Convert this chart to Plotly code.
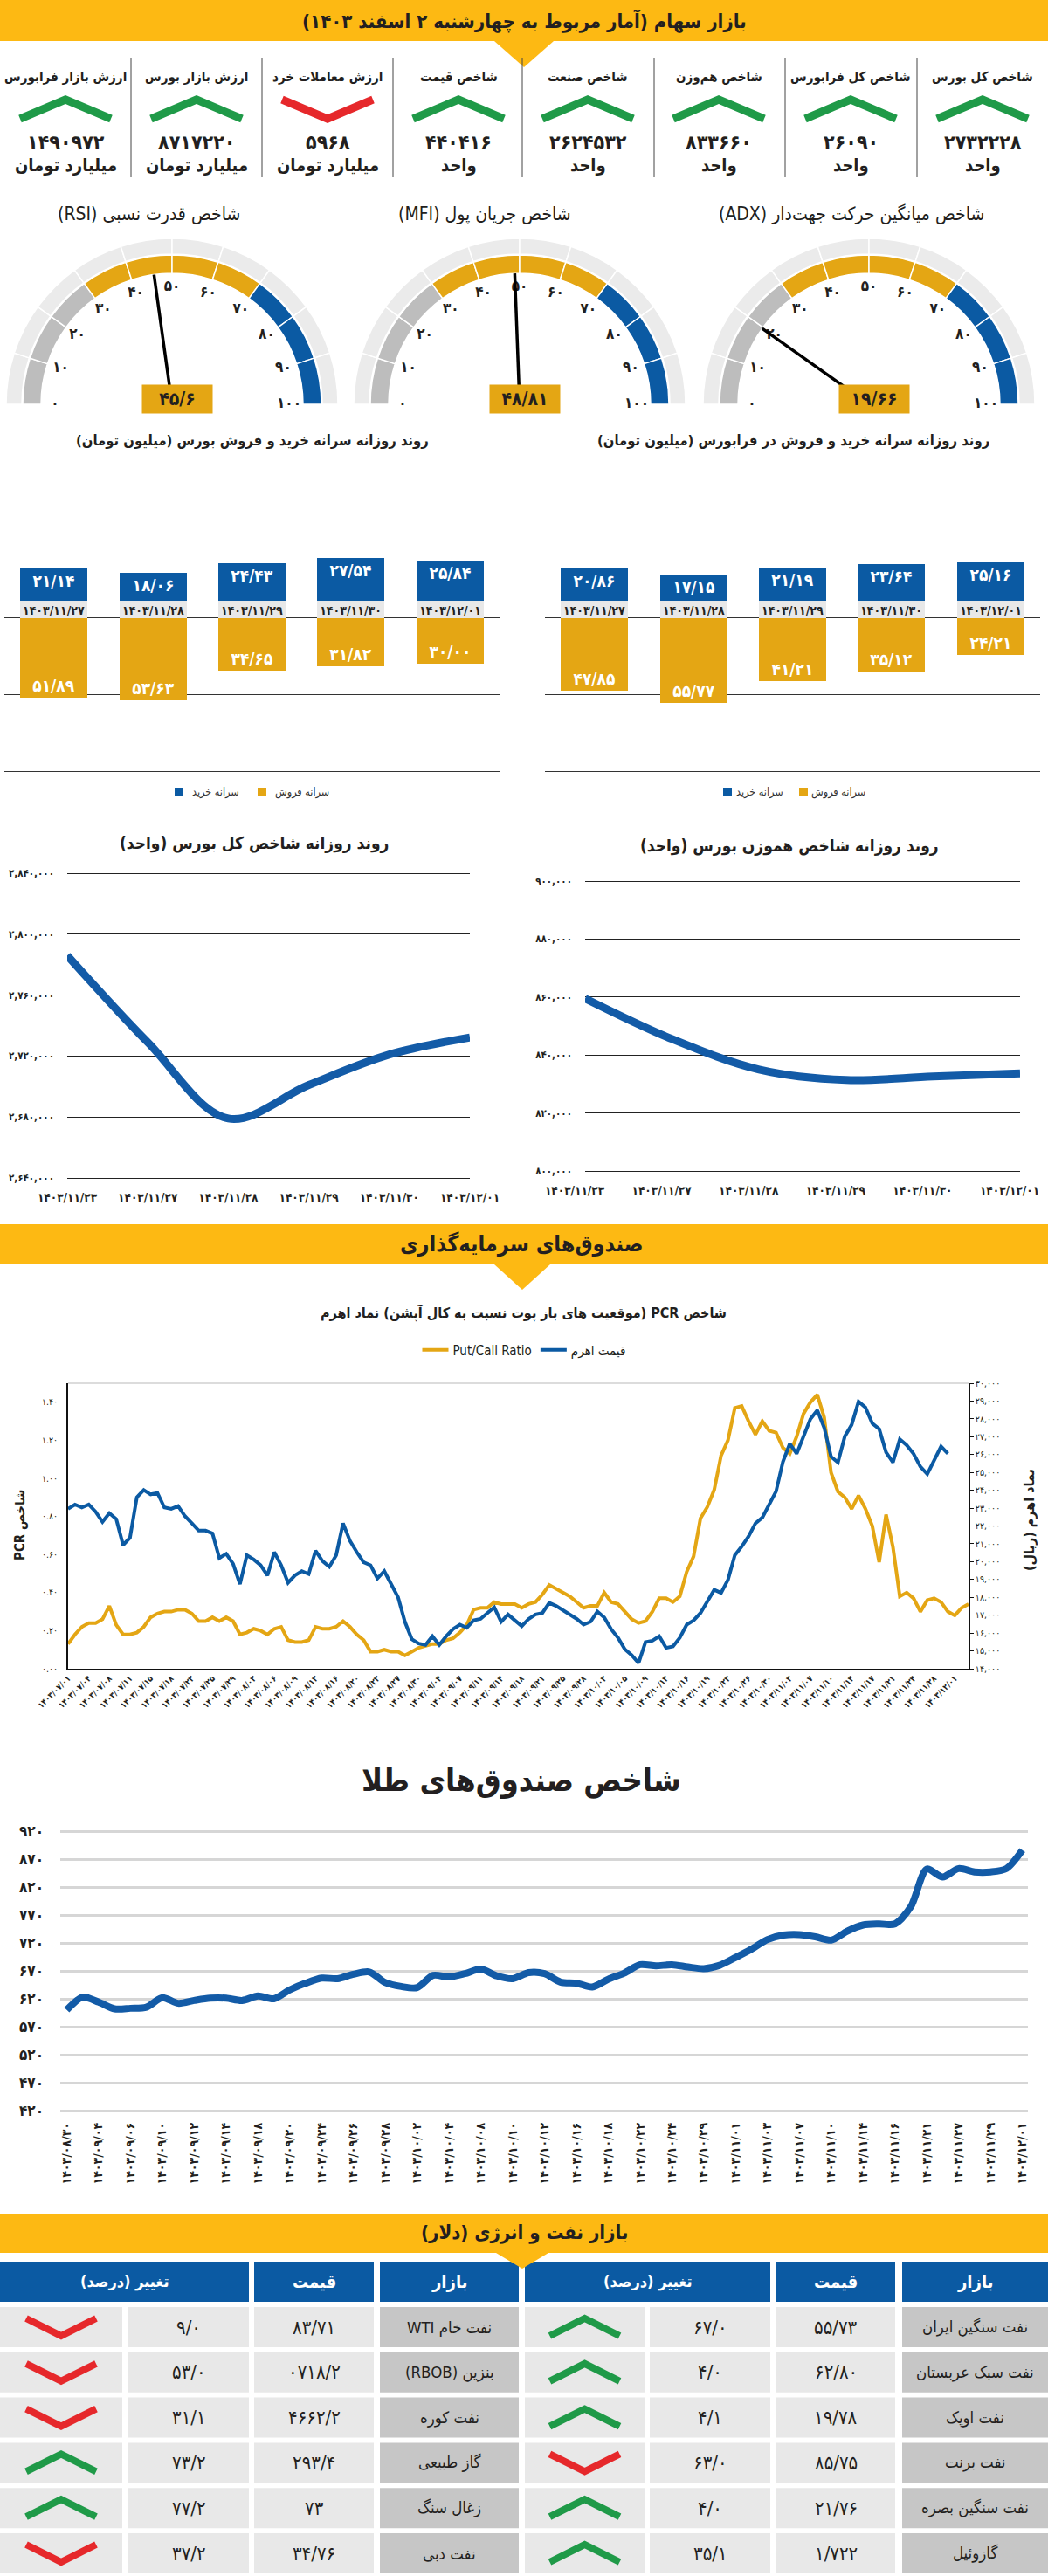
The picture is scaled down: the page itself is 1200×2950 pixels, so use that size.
import plotly.graph_objects as go

W, H = 1200, 2950
FONT = "DejaVu Sans Condensed, DejaVu Sans"
DARK = "#231f20"
YELLOW = "#fdb913"
GOLD = "#e4a614"
BLUE = "#0b5aa3"
LINE_BLUE = "#135ba7"
GREEN = "#1f9a48"
RED = "#e6282b"

FA = str.maketrans("0123456789", "۰۱۲۳۴۵۶۷۸۹")


def fa(s):
    return str(s).translate(FA)


def rtl(s):
    return "\u202b" + s + "\u202c"


def px(x):
    return x / W


def py(y):
    return 1 - y / H


def padded(top_px, bottom_px, lo, hi, pad=2):
    # widen a y axis by a couple of pixels so the end gridlines are drawn
    per = (hi - lo) / (bottom_px - top_px)
    return [py(bottom_px + pad), py(top_px - pad)], [lo - pad * per, hi + pad * per]


# ---------------- data ----------------
report_title = "بازار سهام (آمار مربوط به چهارشنبه ۲ اسفند ۱۴۰۳)"
kpi_titles = ["ارزش بازار فرابورس", "ارزش بازار بورس", "ارزش معاملات خرد", "شاخص قیمت",
              "شاخص صنعت", "شاخص هم\u200cوزن", "شاخص کل فرابورس", "شاخص کل بورس"]
kpi_values = [1490972, 8717220, 5968, 440416, 2624532, 833660, 26090, 2732228]
kpi_units = ["میلیارد تومان"] * 3 + ["واحد"] * 5
kpi_up = [True, True, False, True, True, True, True, True]

gauge_titles = ["شاخص قدرت نسبی (RSI)", "شاخص جریان پول (MFI)", "شاخص میانگین حرکت جهت\u200cدار (ADX)"]
gauge_values = [45.6, 48.81, 19.66]
gauge_ticks = [0, 10, 20, 30, 40, 50, 60, 70, 80, 90, 100]

bar_days = ["1403/11/27", "1403/11/28", "1403/11/29", "1403/11/30", "1403/12/01"]
bourse_buy = [21.14, 18.06, 24.43, 27.54, 25.84]
bourse_sell = [51.89, 53.63, 34.65, 31.82, 30.00]
fara_buy = [20.86, 17.15, 21.19, 23.64, 25.16]
fara_sell = [47.85, 55.77, 41.21, 35.12, 24.21]

index_days = ["1403/11/23", "1403/11/27", "1403/11/28", "1403/11/29", "1403/11/30", "1403/12/01"]
total_index = [2786000, 2729000, 2679000, 2701000, 2721000, 2732228]
eq_index = [859500, 845500, 835000, 831400, 832600, 833660]

pcr_dates = ["1403/07/01", "1403/07/04", "1403/07/08", "1403/07/11", "1403/07/15", "1403/07/18",
             "1403/07/22", "1403/07/25", "1403/07/29", "1403/08/02", "1403/08/06", "1403/08/09",
             "1403/08/13", "1403/08/16", "1403/08/20", "1403/08/23", "1403/08/27", "1403/08/30",
             "1403/09/04", "1403/09/07", "1403/09/11", "1403/09/14", "1403/09/18", "1403/09/21",
             "1403/09/25", "1403/09/28", "1403/10/02", "1403/10/05", "1403/10/09", "1403/10/12",
             "1403/10/16", "1403/10/19", "1403/10/23", "1403/10/26", "1403/10/30", "1403/11/03",
             "1403/11/07", "1403/11/10", "1403/11/14", "1403/11/17", "1403/11/21", "1403/11/24",
             "1403/11/28", "1403/12/01"]
ahrom_price = [22960, 23200, 23040, 23200, 22800, 22230, 22720, 22390, 20930, 21340,
               23610, 24010, 23770, 23850, 23040, 22960, 23120, 22550, 22150, 21740,
               21740, 21580, 20200, 20440, 19880, 18740, 20360, 20120, 19800, 19230,
               20530, 19800, 18820, 19230, 19470, 19310, 20610, 20040, 19710, 20360,
               22150, 21170, 20530, 19960, 19800, 19060, 19470, 18740, 18010, 16630,
               15660, 15410, 15330, 15820, 15330, 15820, 16220, 16470, 16300, 16710,
               16790, 17120, 17440, 16630, 17040, 16710, 16390, 16790, 17040, 17120,
               17690, 17520, 17280, 17040, 16790, 16470, 16630, 17200, 16870, 16220,
               15740, 15090, 14760, 14320, 15490, 15570, 15820, 15170, 15250, 15740,
               16470, 16710, 17120, 17770, 18420, 18250, 18980, 20360, 20850, 21420,
               22150, 22470, 23200, 23940, 25600, 26610, 26050, 27020, 27990, 28480,
               27510, 25880, 25560, 27020, 27670, 28970, 28640, 27750, 27430, 26130,
               25560, 26860, 26530, 26050, 25320, 24910, 25720, 26450, 26050]
put_call = [0.13, 0.18, 0.22, 0.24, 0.24, 0.26, 0.33, 0.23, 0.18, 0.18,
            0.19, 0.22, 0.27, 0.29, 0.30, 0.30, 0.31, 0.31, 0.29, 0.25,
            0.25, 0.27, 0.25, 0.27, 0.25, 0.18, 0.19, 0.21, 0.20, 0.18,
            0.21, 0.22, 0.15, 0.14, 0.14, 0.15, 0.22, 0.21, 0.21, 0.22,
            0.25, 0.22, 0.18, 0.15, 0.09, 0.09, 0.10, 0.09, 0.09, 0.07,
            0.09, 0.11, 0.12, 0.13, 0.13, 0.15, 0.16, 0.19, 0.23, 0.31,
            0.32, 0.32, 0.35, 0.34, 0.34, 0.34, 0.32, 0.34, 0.35, 0.39,
            0.44, 0.42, 0.40, 0.38, 0.35, 0.32, 0.33, 0.33, 0.40, 0.35,
            0.34, 0.30, 0.26, 0.24, 0.25, 0.30, 0.37, 0.37, 0.35, 0.38,
            0.51, 0.59, 0.79, 0.85, 0.94, 1.12, 1.20, 1.37, 1.38, 1.30,
            1.23, 1.30, 1.25, 1.24, 1.16, 1.13, 1.22, 1.34, 1.40, 1.44,
            1.32, 1.03, 0.93, 0.90, 0.84, 0.91, 0.84, 0.75, 0.56, 0.81,
            0.64, 0.38, 0.40, 0.37, 0.30, 0.36, 0.37, 0.35, 0.30, 0.28,
            0.32, 0.34]

fund_dates = ["1403/08/30", "1403/09/04", "1403/09/06", "1403/09/10", "1403/09/12", "1403/09/14",
              "1403/09/18", "1403/09/20", "1403/09/24", "1403/09/26", "1403/09/28", "1403/10/02",
              "1403/10/04", "1403/10/08", "1403/10/10", "1403/10/12", "1403/10/16", "1403/10/18",
              "1403/10/22", "1403/10/24", "1403/10/29", "1403/11/01", "1403/11/03", "1403/11/07",
              "1403/11/10", "1403/11/14", "1403/11/16", "1403/11/21", "1403/11/27", "1403/11/29",
              "1403/12/01"]
gold_fund_index = [600, 623, 614, 602, 603, 605, 622, 612, 617, 621,
                   621, 617, 625, 620, 636, 648, 657, 656, 664, 668,
                   649, 642, 640, 662, 659, 665, 673, 661, 656, 667,
                   665, 650, 648, 641, 655, 666, 681, 679, 681, 677,
                   674, 680, 694, 709, 726, 734, 735, 731, 725, 741,
                   752, 754, 754, 785, 852, 838, 853, 847, 847, 853, 886]

oil_markets_r = ["نفت سنگین ایران", "نفت سبک عربستان", "نفت اوپک", "نفت برنت", "نفت سنگین بصره", "گازوئیل"]
oil_prices_r = ["55/73", "62/80", "19/78", "85/75", "21/76", "1/722"]
oil_changes_r = ["67/0", "4/0", "4/1", "63/0", "4/0", "35/1"]
oil_up_r = [True, True, True, False, True, True]
oil_markets_l = ["نفت خام WTI", "بنزین (RBOB)", "نفت کوره", "گاز طبیعی", "زغال سنگ", "نفت دبی"]
oil_prices_l = ["83/71", "0718/2", "4662/2", "293/4", "73", "34/76"]
oil_changes_l = ["9/0", "53/0", "31/1", "73/2", "77/2", "37/2"]
oil_up_l = [False, False, False, True, True, False]

# ---------------- helpers ----------------
fig = go.Figure()
shapes = []
ann = []


def rect(x0, y0, x1, y1, color, layer="below"):
    shapes.append(dict(type="rect", xref="x", yref="y", x0=x0, y0=y0, x1=x1, y1=y1,
                       fillcolor=color, line=dict(width=0), layer=layer))


def tri(xc, y0, half, depth):
    shapes.append(dict(type="path", xref="x", yref="y", layer="above",
                       path=f"M {xc-half},{y0} L {xc+half},{y0} L {xc},{y0+depth} Z",
                       fillcolor=YELLOW, line=dict(width=0)))


def text(x, y, s, size=14, color=DARK, bold=False, **kw):
    ann.append(dict(xref="x", yref="y", x=x, y=y, text=rtl(s), showarrow=False,
                    font=dict(family=FONT, size=size, color=color,
                              weight="bold" if bold else "normal"), **kw))


def chevron(cx, cy, half_w, half_h, up, width):
    ys = [cy + half_h, cy - half_h, cy + half_h] if up else [cy - half_h, cy + half_h, cy - half_h]
    fig.add_trace(go.Scatter(x=[cx - half_w, cx, cx + half_w], y=ys, mode="lines",
                             line=dict(color=GREEN if up else RED, width=width),
                             xaxis="x", yaxis="y", showlegend=False, hoverinfo="skip"))


def num(v):
    return fa(f"{v:.2f}".replace(".", "/"))


# ---------------- header + KPI row ----------------
rect(0, 0, 1200, 47, YELLOW)
tri(600, 47, 34, 30)
text(600, 24, report_title, 22, DARK, True)

kpi_x = [75, 225, 375, 525, 673, 823, 974, 1125]
for xd in [150, 300, 450, 598, 749, 899, 1050]:
    shapes.append(dict(type="line", xref="x", yref="y", x0=xd, x1=xd, y0=66, y1=203,
                       line=dict(color="#444", width=1)))
for cx, t, v, u, up in zip(kpi_x, kpi_titles, kpi_values, kpi_units, kpi_up):
    text(cx, 88, t, 15, DARK, True)
    chevron(cx, 125, 52, 11, up, 9)
    text(cx, 163, fa(v), 23, DARK, True)
    text(cx, 189, u, 20, DARK, True)

# ---------------- gauges ----------------
gauge_cx = [197, 595, 995]
title_cx = [170, 555, 975]
seg_theta = [9 + 18 * k for k in range(10)]
seg_col = ["#bdbdbd"] * 3 + [GOLD] * 4 + [BLUE] * 3
for i, (cx, tcx, t, v) in enumerate(zip(gauge_cx, title_cx, gauge_titles, gauge_values)):
    sp = "polar" if i == 0 else f"polar{i+1}"
    fig.add_trace(go.Barpolar(theta=seg_theta, r=[18] * 10, base=172, width=18,
                              marker=dict(color="#ebebeb", line=dict(color="white", width=1.5)),
                              subplot=sp, showlegend=False, hoverinfo="skip"))
    fig.add_trace(go.Barpolar(theta=seg_theta, r=[21] * 10, base=150, width=18,
                              marker=dict(color=seg_col, line=dict(color="white", width=1.5)),
                              subplot=sp, showlegend=False, hoverinfo="skip"))
    fig.add_trace(go.Scatterpolar(r=[134] * len(gauge_ticks), theta=[g * 1.8 for g in gauge_ticks],
                                  mode="text", text=[fa(g) for g in gauge_ticks],
                                  textfont=dict(family=FONT, size=17, color=DARK, weight="bold"),
                                  subplot=sp, showlegend=False, hoverinfo="skip"))
    fig.add_trace(go.Scatterpolar(r=[0, 150], theta=[v * 1.8, v * 1.8], mode="lines",
                                  line=dict(color="black", width=3.5),
                                  subplot=sp, showlegend=False, hoverinfo="skip"))
    fig.layout[sp] = dict(domain=dict(x=[px(cx - 192), px(cx + 192)], y=[py(463), py(271)]),
                          sector=[0, 180], bgcolor="rgba(0,0,0,0)",
                          radialaxis=dict(visible=False, range=[0, 192]),
                          angularaxis=dict(visible=False, rotation=180, direction="clockwise",
                                           thetaunit="degrees"))
    text(tcx, 245, t, 21, DARK)
    text(cx + 6, 457, fa(str(v).replace(".", "/")), 21, DARK, True,
         bgcolor=GOLD, width=78, height=30)

# ---------------- per-capita bar charts ----------------
BAND = 11.3
bar_x = list(range(len(bar_days)))
bar_dom, bar_rng = padded(532, 883, -100, 100)
bar_sets = [("x2", "y2", bourse_buy, bourse_sell, 5, 572, 289,
             "روند روزانه سرانه خرید و فروش بورس (میلیون تومان)"),
            ("x3", "y3", fara_buy, fara_sell, 624, 1191, 908,
             "روند روزانه سرانه خرید و فروش در فرابورس (میلیون تومان)")]
for xa, ya, buy, sell, x0, x1, tcx, title in bar_sets:
    common = dict(x=bar_x, width=0.68, xaxis=xa, yaxis=ya, showlegend=False, hoverinfo="skip",
                  textposition="inside", insidetextanchor="end", constraintext="none", textangle=0)
    fig.add_trace(go.Bar(y=buy, base=BAND, marker=dict(color=BLUE, line=dict(width=0)),
                         text=[num(v) for v in buy],
                         textfont=dict(family=FONT, size=19, color="white", weight="bold"), **common))
    fig.add_trace(go.Bar(y=[BAND] * len(bar_x), base=0, marker=dict(color="#e8e8e8", line=dict(width=0)),
                         text=[fa(d) for d in bar_days],
                         textfont=dict(family=FONT, size=14, color=DARK, weight="bold"), **common))
    fig.add_trace(go.Bar(y=[-v for v in sell], base=0, marker=dict(color=GOLD, line=dict(width=0)),
                         text=[num(v) for v in sell],
                         textfont=dict(family=FONT, size=19, color="white", weight="bold"), **common))
    fig.layout[xa.replace("x", "xaxis")] = dict(domain=[px(x0), px(x1)], range=[-0.5, 4.5], visible=False)
    fig.layout[ya.replace("y", "yaxis")] = dict(domain=bar_dom, range=bar_rng,
                                               tickvals=[-100, -50, 0, 50, 100], showticklabels=False,
                                               showgrid=True, gridcolor="#333", gridwidth=1,
                                               zeroline=False, anchor=xa)
    text(tcx, 505, title, 16.5, DARK, True)

for sq_b, tx_b, sq_g, tx_g in [(205, 247, 300, 346), (833, 870, 920, 960)]:
    rect(sq_b - 5, 902, sq_b + 5, 912, BLUE)
    rect(sq_g - 5, 902, sq_g + 5, 912, GOLD)
    text(tx_b, 907, "سرانه خرید", 12.5, "#333")
    text(tx_g, 907, "سرانه فروش", 12.5, "#333")

# ---------------- index lines ----------------
line_sets = [("x4", "y4", total_index, 77, 538, 1000, 1349, [2640000, 2840000], 40000, 291,
              "روند روزانه شاخص کل بورس (واحد)", 965, 0),
             ("x5", "y5", eq_index, 670, 1168, 1009, 1341, [800000, 900000], 20000, 904,
              "روند روزانه شاخص هموزن بورس (واحد)", 968, -12)]
for xa, ya, vals, x0, x1, y0, y1, rng, step, tcx, title, ty, shift in line_sets:
    fig.add_trace(go.Scatter(x=list(range(len(index_days))), y=vals, mode="lines",
                             line=dict(color=LINE_BLUE, width=9, shape="spline", smoothing=1.0),
                             xaxis=xa, yaxis=ya, showlegend=False, hoverinfo="skip"))
    ticks = list(range(rng[0], rng[1] + 1, step))
    dom, prng = padded(y0, y1, rng[0], rng[1])
    fig.layout[xa.replace("x", "xaxis")] = dict(domain=[px(x0), px(x1)], range=[0, len(index_days) - 1],
                                               tickvals=list(range(len(index_days))),
                                               ticktext=[fa(d) for d in index_days],
                                               tickfont=dict(family=FONT, size=13.5, color=DARK, weight="bold"),
                                               showgrid=False, zeroline=False, showline=False, ticks="",
                                               ticklabelstandoff=10, ticklabelshift=shift,
                                               ticklabeloverflow="allow", anchor=ya)
    fig.layout[ya.replace("y", "yaxis")] = dict(domain=dom, range=prng, tickvals=ticks,
                                               ticktext=[fa(f"{t:,}") for t in ticks],
                                               tickfont=dict(family=FONT, size=11.5, color=DARK, weight="bold"),
                                               showgrid=True, gridcolor="#222", gridwidth=1, zeroline=False,
                                               ticklabelstandoff=14, anchor=xa)
    text(tcx, ty, title, 19, DARK, True)

# ---------------- investment funds header ----------------
rect(0, 1402, 1200, 1448, YELLOW)
tri(598, 1448, 32, 29)
text(597, 1425, "صندوق\u200cهای سرمایه\u200cگذاری", 25, DARK, True)

# ---------------- PCR chart ----------------
text(599, 1503, "شاخص PCR (موقعیت های باز پوت نسبت به کال آپشن) نماد اهرم", 16, DARK, True)
fig.add_trace(go.Scatter(x=list(range(len(put_call))), y=put_call, mode="lines", name="Put/Call Ratio",
                         line=dict(color=GOLD, width=4), xaxis="x6", yaxis="y6", hoverinfo="skip"))
fig.add_trace(go.Scatter(x=list(range(len(ahrom_price))), y=ahrom_price, mode="lines", name="قیمت اهرم",
                         line=dict(color=BLUE, width=4), xaxis="x6", yaxis="y7", hoverinfo="skip"))
pcr_left = [0, 0.2, 0.4, 0.6, 0.8, 1.0, 1.2, 1.4]
pcr_right = list(range(14000, 30001, 1000))
fig.layout.xaxis6 = dict(domain=[px(78), px(1109)], range=[0, 131],
                         tickvals=[3 * k for k in range(len(pcr_dates))],
                         ticktext=[fa(d) for d in pcr_dates], tickangle=-45,
                         tickfont=dict(family=FONT, size=9.5, color=DARK, weight="bold"),
                         showgrid=False, zeroline=False, showline=True, linecolor="#111", linewidth=1.5,
                         ticks="", anchor="y6")
fig.layout.yaxis6 = dict(domain=[py(1911), py(1584)], range=[0, 1.5], tickvals=pcr_left,
                         ticktext=[fa(f"{v:.2f}") for v in pcr_left],
                         tickfont=dict(family=FONT, size=10.5, color=DARK),
                         showgrid=False, zeroline=False, showline=True, linecolor="#111", linewidth=1.5,
                         ticklabelstandoff=8, anchor="x6")
fig.layout.yaxis7 = dict(overlaying="y6", side="right", range=[14000, 30000], tickvals=pcr_right,
                         ticktext=[fa(f"{v:,}") for v in pcr_right],
                         tickfont=dict(family=FONT, size=10.5, color=DARK),
                         showgrid=False, zeroline=False, showline=True, linecolor="#111", linewidth=1.5,
                         ticks="outside", ticklen=4, tickcolor="#111", anchor="x6")
shapes.append(dict(type="line", xref="x", yref="y", x0=78, x1=1109, y0=1584, y1=1584,
                   line=dict(color="#d0d0d0", width=1.5)))
text(23, 1747, "شاخص PCR", 15, DARK, True, textangle=-90)
text(1178, 1741, "نماد اهرم (ریال)", 16, DARK, True, textangle=-90)

# ---------------- gold funds ----------------
text(597, 2039, "شاخص صندوق\u200cهای طلا", 36, DARK, True)
fig.add_trace(go.Scatter(x=list(range(len(gold_fund_index))), y=gold_fund_index, mode="lines",
                         line=dict(color=LINE_BLUE, width=8, shape="spline", smoothing=0.8),
                         xaxis="x8", yaxis="y8", showlegend=False, hoverinfo="skip"))
gold_ticks = list(range(420, 921, 50))
gold_dom, gold_rng = padded(2097, 2417, 420, 920)
fig.layout.xaxis8 = dict(domain=[px(69), px(1177)], range=[-0.41, 60.35],
                         tickvals=[2 * k for k in range(len(fund_dates))],
                         ticktext=[fa(d) for d in fund_dates], tickangle=-90,
                         tickfont=dict(family=FONT, size=14, color=DARK, weight="bold"),
                         showgrid=False, zeroline=False, showline=False, ticks="",
                         ticklabelstandoff=8, anchor="y8")
fig.layout.yaxis8 = dict(domain=gold_dom, range=gold_rng, tickvals=gold_ticks,
                         ticktext=[fa(t) for t in gold_ticks],
                         tickfont=dict(family=FONT, size=17, color=DARK, weight="bold"),
                         showgrid=True, gridcolor="#d6d6d6", gridwidth=2.5, zeroline=False,
                         ticklabelstandoff=18, anchor="x8")

# ---------------- oil & energy table ----------------
rect(0, 2535, 1200, 2580, YELLOW)
text(600, 2557, "بازار نفت و انرژی (دلار)", 22, DARK, True)

LIGHT, MID = "#e8e8e8", "#c6c6c6"
groups = [
    dict(arrow=(0, 140), change=(147, 285), price=(291, 428), market=(435, 594),
         markets=oil_markets_l, prices=oil_prices_l, changes=oil_changes_l, up=oil_up_l),
    dict(arrow=(601, 738), change=(744, 882), price=(889, 1025), market=(1033, 1200),
         markets=oil_markets_r, prices=oil_prices_r, changes=oil_changes_r, up=oil_up_r),
]
for g in groups:
    a0, a1 = g["arrow"]
    c0, c1 = g["change"]
    p0, p1 = g["price"]
    m0, m1 = g["market"]
    rect(a0, 2590, c1, 2636, BLUE)
    rect(p0, 2590, p1, 2636, BLUE)
    rect(m0, 2590, m1, 2636, BLUE)
    text((a0 + c1) / 2, 2613, "تغییر (درصد)", 18, "white", True)
    text((p0 + p1) / 2, 2613, "قیمت", 20, "white", True)
    text((m0 + m1) / 2, 2613, "بازار", 20, "white", True)
    for i in range(len(g["markets"])):
        y0 = 2642 + 51.8 * i
        y1 = y0 + 46
        ym = (y0 + y1) / 2
        rect(a0, y0, a1, y1, LIGHT)
        rect(c0, y0, c1, y1, LIGHT)
        rect(p0, y0, p1, y1, LIGHT)
        rect(m0, y0, m1, y1, MID)
        text((c0 + c1) / 2, ym, fa(g["changes"][i]), 22, DARK)
        text((p0 + p1) / 2, ym, fa(g["prices"][i]), 22, DARK)
        text((m0 + m1) / 2, ym, g["markets"][i], 18.5, DARK)
        chevron((a0 + a1) / 2, ym, 40, 10, g["up"][i], 8)
tri(598, 2580, 30, 18)

# ---------------- layout ----------------
fig.update_layout(
    width=W, height=H, margin=dict(l=0, r=0, t=0, b=0, autoexpand=False), autosize=False,
    paper_bgcolor="white", plot_bgcolor="rgba(0,0,0,0)",
    barmode="overlay", bargap=0,
    font=dict(family=FONT, color=DARK),
    xaxis=dict(domain=[0, 1], range=[0, W], visible=False, fixedrange=True),
    yaxis=dict(domain=[0, 1], range=[H, 0], visible=False, fixedrange=True),
    shapes=shapes, annotations=ann,
    showlegend=True,
    legend=dict(orientation="h", x=0.5, xanchor="center", y=py(1546), yanchor="middle",
                font=dict(family=FONT, size=15, color=DARK), bgcolor="rgba(0,0,0,0)",
                itemwidth=30, traceorder="normal"),
)
fig.update_xaxes(automargin=False)
fig.update_yaxes(automargin=False)

fig.write_html("out.html", config={"displayModeBar": False},
               post_script="document.body.style.margin='0';")
